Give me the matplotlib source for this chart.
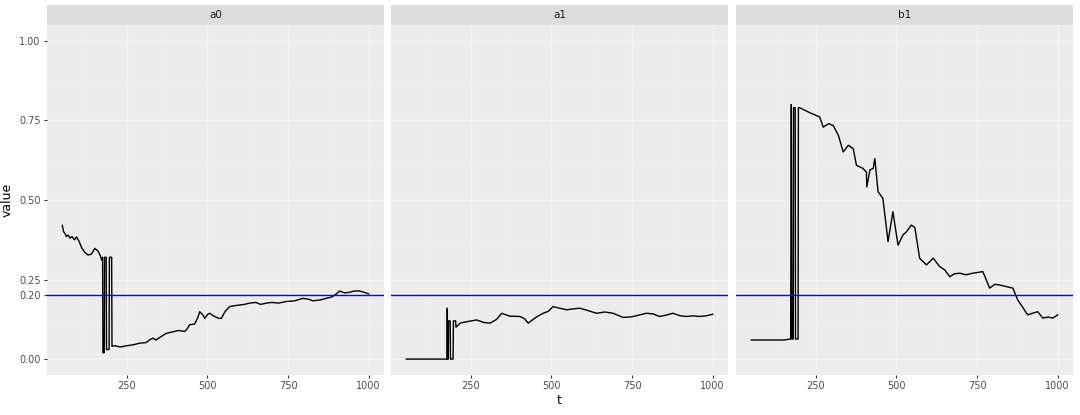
import numpy as np
import matplotlib.pyplot as plt

# ------------------------------ Data -----------------------------------

panels = ['a0', 'a1', 'b1']

t_a0 = [50, 54, 58, 63, 68, 74, 80, 88, 94, 102, 110, 120, 130, 140, 151, 160, 168, 172,
        175, 176, 180, 181, 186, 187, 195, 196, 203, 204, 212, 230, 250, 270, 290, 310, 320,
        331, 340, 355, 373, 390, 410, 430, 437, 445, 460, 470, 476, 485, 492, 500, 507, 520,
        535, 543, 555, 569, 585, 600, 615, 631, 650, 665, 683, 700, 720, 745, 770, 796, 815,
        827, 850, 869, 885, 900, 910, 925, 941, 955, 972, 985, 1000]
v_a0 = [0.42, 0.40, 0.395, 0.385, 0.39, 0.38, 0.385, 0.375, 0.384, 0.37, 0.35, 0.335, 0.327, 0.33, 0.348,
        0.34, 0.325, 0.311, 0.32, 0.02, 0.02, 0.32, 0.32, 0.03, 0.03, 0.32, 0.32, 0.04, 0.042, 0.038,
        0.042, 0.045, 0.05, 0.052, 0.06, 0.066, 0.06, 0.07, 0.081, 0.085, 0.09, 0.087, 0.095, 0.108,
        0.11, 0.13, 0.149, 0.14, 0.128, 0.14, 0.144, 0.135, 0.128, 0.128, 0.15, 0.165, 0.168, 0.17,
        0.172, 0.176, 0.178, 0.172, 0.176, 0.178, 0.176, 0.181, 0.183, 0.191, 0.188, 0.183, 0.186,
        0.191, 0.195, 0.205, 0.214, 0.208, 0.210, 0.214, 0.214, 0.210, 0.205]

t_a1 = [50, 100, 150, 176, 177, 178, 180, 181, 186, 187, 195, 196, 203, 204, 217, 240, 268,
        290, 310, 330, 346, 370, 402, 415, 428, 450, 474, 490, 505, 525, 547, 570, 588, 615,
        640, 665, 691, 722, 750, 794, 815, 835, 855, 876, 900, 918, 940, 959, 980, 1000]
v_a1 = [0.0, 0.0, 0.0, 0.0, 0.16, 0.0, 0.0, 0.12, 0.12, 0.0, 0.0, 0.12, 0.12, 0.10, 0.113,
        0.118, 0.123, 0.115, 0.113, 0.125, 0.144, 0.135, 0.134, 0.128, 0.113, 0.13, 0.144,
        0.15, 0.165, 0.16, 0.155, 0.158, 0.160, 0.152, 0.144, 0.148, 0.144, 0.131, 0.133,
        0.144, 0.142, 0.134, 0.138, 0.144, 0.136, 0.134, 0.136, 0.134, 0.136, 0.141]

t_b1 = [50, 100, 150, 172, 174, 176, 180, 181, 186, 187, 195, 196, 200, 206, 230, 262, 273,
        290, 304, 320, 335, 351, 366, 376, 395, 407, 408, 418, 428, 433, 443, 458, 474, 489,
        505, 520, 531, 546, 557, 572, 593, 614, 634, 650, 665, 680, 696, 715, 737, 768, 789,
        805, 820, 840, 861, 876, 890, 907, 925, 938, 954, 970, 985, 1000]
v_b1 = [0.06, 0.06, 0.06, 0.063, 0.80, 0.063, 0.063, 0.79, 0.79, 0.063, 0.063, 0.79, 0.79,
        0.787, 0.775, 0.761, 0.729, 0.74, 0.734, 0.703, 0.651, 0.672, 0.661, 0.609, 0.60,
        0.588, 0.541, 0.595, 0.599, 0.630, 0.526, 0.505, 0.369, 0.463, 0.358, 0.39, 0.400,
        0.421, 0.414, 0.317, 0.296, 0.317, 0.291, 0.28, 0.259, 0.268, 0.270, 0.265, 0.270,
        0.275, 0.223, 0.235, 0.233, 0.228, 0.223, 0.186, 0.165, 0.139, 0.145, 0.149, 0.129,
        0.132, 0.129, 0.139]

series = {'a0': (t_a0, v_a0), 'a1': (t_a1, v_a1), 'b1': (t_b1, v_b1)}

y_ticks = [0.0, 0.2, 0.25, 0.5, 0.75, 1.0]
y_labels = ['0.00', '0.20', '0.25', '0.50', '0.75', '1.00']
x_ticks = [250, 500, 750, 1000]
hline = 0.2

# ------------------------------ Plotting -----------------------------------

W, H = 1080, 415
fig = plt.figure(figsize=(W / 100, H / 100), dpi=100)

lefts = [47, 391, 736]
pw = 337
top, bottom = 25, 375
strip_h = 20

for i, name in enumerate(panels):
    ax = fig.add_axes([lefts[i] / W, 1 - bottom / H, pw / W, (bottom - top) / H])
    ax.set_facecolor('#ECECEC')
    ax.set_xlim(2.5, 1047.5)
    ax.set_ylim(-0.05, 1.05)
    ax.set_xticks(x_ticks)
    ax.set_xticklabels([str(x) for x in x_ticks])
    ax.set_xticks([125, 375, 625, 875], minor=True)
    ax.set_yticks(y_ticks)
    ax.set_yticks([0.1, 0.225, 0.375, 0.625, 0.875], minor=True)
    # grid is very faint in the reference
    ax.grid(True, which='major', color='#F2F2F2', linewidth=1.0)
    ax.grid(True, which='minor', color='#EFEFEF', linewidth=0.5)
    ax.set_axisbelow(True)
    for s in ax.spines.values():
        s.set_visible(False)
    ax.tick_params(which='major', length=2.5, color='#333333', labelsize=7,
                   labelcolor='#4D4D4D', pad=2)
    ax.tick_params(which='minor', length=0)
    if i == 0:
        ax.set_yticklabels(y_labels)
        ax.set_ylabel('value', fontsize=9, color='black', labelpad=4)
    else:
        ax.tick_params(axis='y', which='major', length=0, labelleft=False)
    if i == 1:
        ax.set_xlabel('t', fontsize=9, color='black', labelpad=2)

    t, v = series[name]
    ax.plot(t, v, color='black', linewidth=1.0)
    ax.axhline(hline, color='blue', linewidth=1.0)

    # facet strip
    sax = fig.add_axes([lefts[i] / W, 1 - top / H, pw / W, strip_h / H])
    sax.set_facecolor('#DCDCDC')
    sax.set_xticks([])
    sax.set_yticks([])
    for s in sax.spines.values():
        s.set_visible(False)
    sax.text(0.5, 0.5, name, ha='center', va='center', fontsize=7.5, color='#1A1A1A',
             transform=sax.transAxes)

plt.savefig('out.png', dpi=100)
